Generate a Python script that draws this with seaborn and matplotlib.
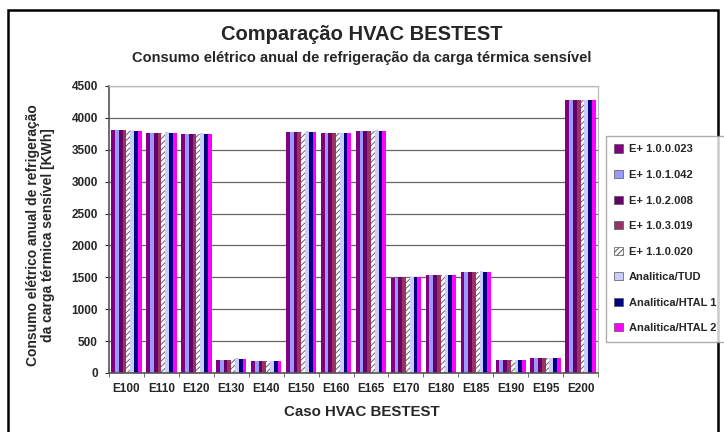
import pandas as pd
import seaborn as sns
import matplotlib.pyplot as plt
from matplotlib.patches import Rectangle

sns.set_style('white')
plt.rcParams['font.family'] = ['Liberation Sans', 'DejaVu Sans']
plt.rcParams['hatch.linewidth'] = 0.7

# Data
casos = ['E100', 'E110', 'E120', 'E130', 'E140', 'E150', 'E160',
         'E165', 'E170', 'E180', 'E185', 'E190', 'E195', 'E200']

series = ['E+ 1.0.0.023', 'E+ 1.0.1.042', 'E+ 1.0.2.008', 'E+ 1.0.3.019',
          'E+ 1.1.0.020', 'Analitica/TUD', 'Analitica/HTAL 1', 'Analitica/HTAL 2']

e_1000023 = [3805, 3765, 3750, 205, 195, 3780, 3765, 3800, 1495, 1535, 1590, 205, 235, 4280]
e_1010042 = [3805, 3765, 3750, 205, 195, 3780, 3765, 3800, 1495, 1535, 1590, 205, 235, 4280]
e_1020008 = [3805, 3765, 3750, 205, 195, 3780, 3765, 3800, 1500, 1535, 1590, 205, 235, 4280]
e_1030019 = [3805, 3765, 3750, 205, 195, 3780, 3765, 3800, 1500, 1535, 1590, 205, 235, 4280]
e_1100020 = [3800, 3760, 3745, 225, 190, 3775, 3760, 3795, 1490, 1530, 1585, 200, 230, 4275]
tud = [3805, 3775, 3755, 230, 195, 3790, 3770, 3805, 1500, 1540, 1595, 210, 240, 4285]
htal1 = [3800, 3770, 3750, 225, 195, 3785, 3765, 3800, 1500, 1535, 1590, 210, 240, 4280]
htal2 = [3800, 3770, 3750, 215, 195, 3785, 3765, 3800, 1500, 1535, 1590, 210, 240, 4280]

cores = ['#800080', '#9999FF', '#660066', '#993366',
         '#FFFFFF', '#CCCCFF', '#000080', '#FF00FF']

valores = [e_1000023, e_1010042, e_1020008, e_1030019, e_1100020, tud, htal1, htal2]
linhas = []
for nome, vals in zip(series, valores):
    for caso, v in zip(casos, vals):
        linhas.append({'caso': caso, 'serie': nome, 'valor': v})
df = pd.DataFrame(linhas)

fig = plt.figure(figsize=(7.24, 4.32), dpi=100)
ax = fig.add_axes([0.1506, 0.1366, 0.6754, 0.6644])

ax.set_axisbelow(True)
ax.yaxis.grid(True, color='#666666', linewidth=0.9)

sns.barplot(data=df, x='caso', y='valor', hue='serie', palette=cores,
            saturation=1, width=0.87, linewidth=0, ax=ax, legend=True)

# hatched series (E+ 1.1.0.020)
n = len(casos)
for bar in ax.containers[4]:
    bar.set_hatch('//////')
    bar.set_edgecolor('#666666')
    bar.set_linewidth(0)

ax.set_ylim(0, 4500)
ax.set_xlim(-0.5, n - 0.5)
ax.set_yticks(range(0, 4501, 500))
ax.set_xlabel('')
ax.set_ylabel('')
ax.tick_params(axis='y', labelsize=8.5, length=3, direction='out', left=True, pad=5)
ax.tick_params(axis='x', labelsize=8.5, length=0, pad=7)
for lab in ax.get_xticklabels() + ax.get_yticklabels():
    lab.set_fontweight('bold')

# category separators on x axis
ax.set_xticks([i + 0.5 for i in range(-1, n)], minor=True)
ax.tick_params(axis='x', which='minor', length=3, direction='out', bottom=True, color='#555555')

for lado in ['left', 'bottom']:
    ax.spines[lado].set_color('#555555')
    ax.spines[lado].set_linewidth(1.2)
for lado in ['top', 'right']:
    ax.spines[lado].set_color('#BBBBBB')
    ax.spines[lado].set_linewidth(0.9)

handles, labels = ax.get_legend_handles_labels()
ax.get_legend().remove()
leg = fig.legend(handles, labels, loc='upper left', bbox_to_anchor=(0.837, 0.685),
                 frameon=True, fancybox=False, edgecolor='#999999',
                 prop={'weight': 'bold', 'size': 8}, handlelength=0.75,
                 handleheight=0.75, handletextpad=0.55, labelspacing=1.4,
                 borderpad=0.75, borderaxespad=0)
for i, h in enumerate(leg.legend_handles):
    h.set_linewidth(0.5)
    h.set_edgecolor('#555555')
    if i == 4:
        h.set_hatch('//////')

fig.text(0.5, 0.919, 'Comparação HVAC BESTEST', ha='center', va='center',
         fontsize=14.5, fontweight='bold')
fig.text(0.5, 0.866, 'Consumo elétrico anual de refrigeração da carga térmica sensível',
         ha='center', va='center', fontsize=10.5, fontweight='bold')
fig.text(0.056, 0.456, 'Consumo elétrico anual de refrigeração\nda carga térmica sensível [KWh]',
         ha='center', va='center', rotation=90, fontsize=10, fontweight='bold',
         linespacing=1.1)
fig.text(0.5, 0.046, 'Caso HVAC BESTEST', ha='center', va='center',
         fontsize=10.8, fontweight='bold')

# outer frame of the chart
fig.patches.append(Rectangle((0.011, -0.05), 0.981, 1.027, transform=fig.transFigure,
                             fill=False, edgecolor='black', linewidth=1.8))

fig.savefig('out.png', dpi=100)
